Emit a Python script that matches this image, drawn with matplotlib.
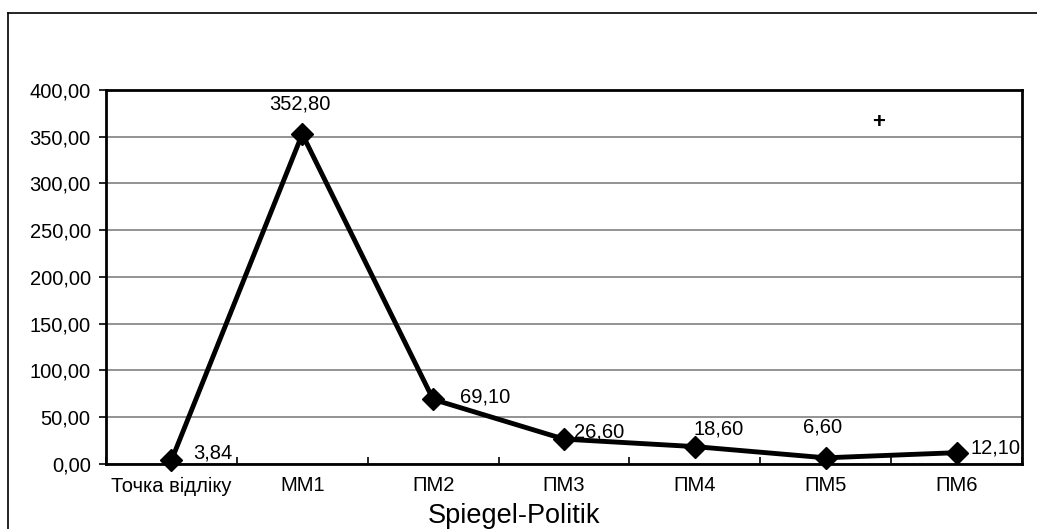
import matplotlib.pyplot as plt
from matplotlib.lines import Line2D

plt.rcParams['font.family'] = ['Liberation Sans', 'DejaVu Sans']

categories = ['Точка відліку', 'ММ1', 'ПМ2', 'ПМ3', 'ПМ4', 'ПМ5', 'ПМ6']
values = [3.84, 352.80, 69.10, 26.60, 18.60, 6.60, 12.10]
y_ticks = [0, 50, 100, 150, 200, 250, 300, 350, 400]
# offsets (points) for each value label, left edge unless dx is None
label_offsets = [(16, 5), (None, 22), (19, 2), (7, 5), (-1, 13), (None, 22), (10, 3.5)]

fs = 14.5

fig = plt.figure(figsize=(10.37, 5.29), dpi=100)
ax = fig.add_axes([0.1022, 0.1229, 0.8833, 0.7070])

x = range(len(categories))
ax.plot(x, values, color='black', linewidth=3.5, marker='D', markersize=11,
        markerfacecolor='black', markeredgecolor='black', zorder=3, clip_on=False)

for i, v in enumerate(values):
    dx, dy = label_offsets[i]
    ha = 'left'
    if dx is None:
        dx, ha = -2, 'center'
    ax.annotate(f'{v:.2f}'.replace('.', ','), (i, v), xytext=(dx, dy),
                textcoords='offset points', ha=ha, va='center', fontsize=fs,
                zorder=4)

ax.set_xlim(-0.5, len(categories) - 0.5)
ax.set_ylim(0, 400)
ax.set_yticks(y_ticks)
ax.set_yticklabels([f'{t:.2f}'.replace('.', ',') for t in y_ticks], fontsize=fs)
ax.set_xticks([i + 0.5 for i in range(-1, len(categories))], minor=False)
ax.set_xticklabels([])
ax.set_xticks(list(x), minor=True)
ax.set_xticklabels(categories, minor=True, fontsize=fs)
ax.tick_params(axis='x', which='major', direction='in', length=5, width=1.2)
ax.tick_params(axis='x', which='minor', length=0, pad=9)
ax.tick_params(axis='y', direction='out', length=5, width=1.2, pad=6)
ax.set_xlabel('Spiegel-Politik', fontsize=19.5, labelpad=2)
ax.xaxis.set_label_coords(0.445, -0.104)

ax.grid(axis='y', color='#808080', linewidth=1.2)
ax.set_axisbelow(True)
for side in ax.spines.values():
    side.set_linewidth(2)
    side.set_color('black')

# stray marker in the upper right of the plot area
ax.text(0.843, 0.914, '+', transform=ax.transAxes, fontsize=16, fontweight='bold',
        ha='center', va='center')

# outer chart frame
fig.add_artist(Line2D([8 / 1037, 8 / 1037], [0, 1 - 13 / 529], transform=fig.transFigure,
                      color='black', linewidth=1.2))
fig.add_artist(Line2D([8 / 1037, 1], [1 - 13 / 529, 1 - 13 / 529], transform=fig.transFigure,
                      color='black', linewidth=1.2))

fig.savefig('out.png', dpi=100)
